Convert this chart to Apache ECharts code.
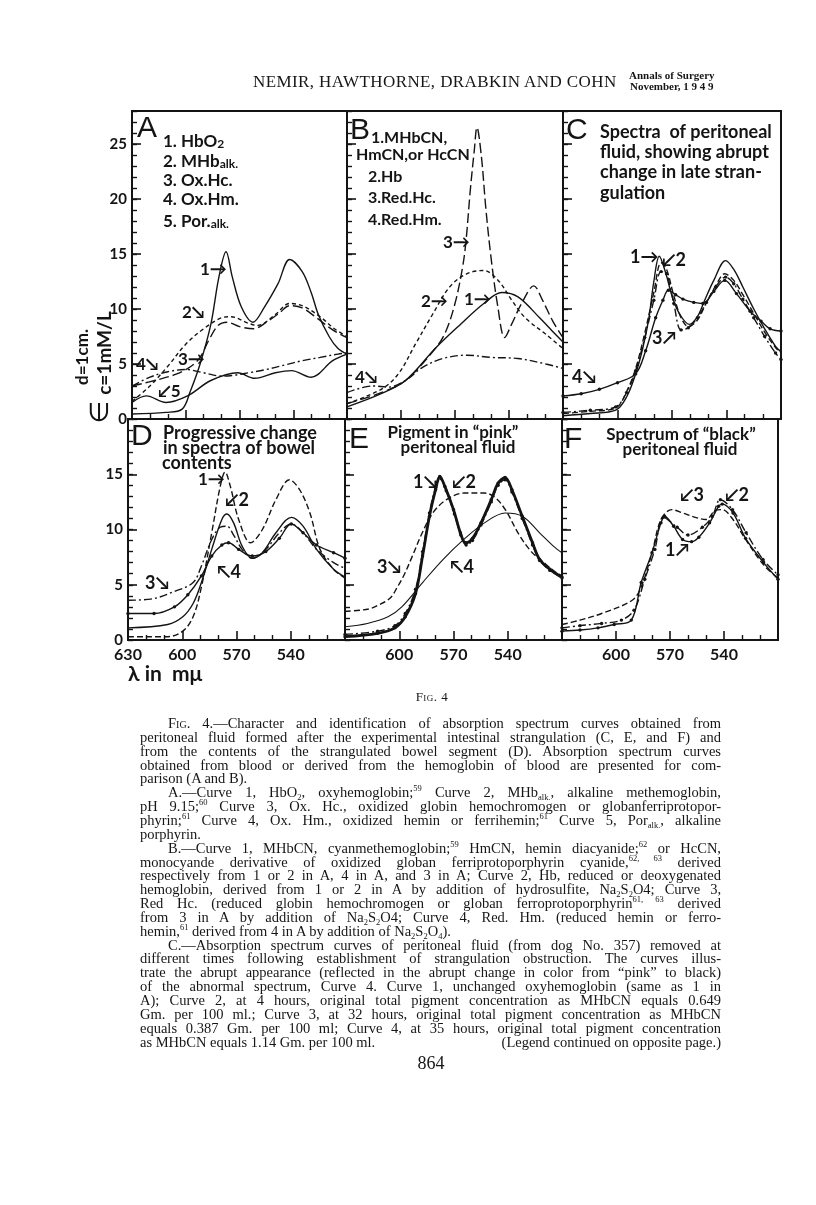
<!DOCTYPE html>
<html>
<head>
<meta charset="utf-8">
<script src="https://cdn.jsdelivr.net/npm/echarts@6/dist/echarts.min.js"></script>
<style>
  html, body { margin: 0; padding: 0; background: #fff; }
  #page { position: relative; width: 816px; height: 1205px; overflow: hidden; background: #fff; }
  #chart { position: absolute; left: 0; top: 0; width: 816px; height: 1205px; }
  .serif { position: absolute; font-family: "Liberation Serif", "DejaVu Serif", serif; color: #161616; }
  .hdr { top: 72px; left: 253px; font-size: 17px; line-height: 20px; letter-spacing: 0.4px; }
  .ann { left: 629px; top: 70px; font-size: 11px; font-weight: bold; line-height: 11px; text-align: center; }
  .fig { top: 689px; left: 332px; width: 200px; text-align: center; font-size: 13px; line-height: 16px; letter-spacing: 0.5px; }
  .ln { position: absolute; font-size: 14.5px; line-height: 14px; height: 14px; text-align: justify; text-align-last: justify; }
  .ln.last { text-align-last: left; }
  .ln sup, .ln sub { font-size: 8.5px; line-height: 0; }
  .ln sub { vertical-align: -3px; }
  .sc { font-variant: small-caps; }
  .pg { top: 1052px; left: 381px; width: 100px; text-align: center; font-size: 18px; line-height: 22px; }
</style>
</head>
<body>
<div id="page">
  <div id="chart"></div>
  <div class="serif hdr">NEMIR, HAWTHORNE, DRABKIN AND COHN</div>
  <div class="serif ann">Annals of Surgery<br>November, 1 9 4 9</div>
  <div class="serif fig"><span class="sc">Fig.</span> 4</div>
  <div id="caption"></div>
  <div class="serif pg">864</div>
</div>
<script>
// wavelength axis (m\u03bc), reversed: 630 on the left
const xMin = 510, xMax = 630;
const xLabelsFirst = [630, 600, 570, 540];
const xLabelsOther = [600, 570, 540];
const yLabelsTop = [0, 5, 10, 15, 20, 25];
const yLabelsBottom = [0, 5, 10, 15];

// A  (blood pigments)
const A1_HbO2 = [[630,0.45],[611,0.6],[602,0.9],[597.5,2.5],[592,5.0],[586,8.6],[581.5,12.9],[577.5,15.2],[574,12.9],[569,10.2],[562.5,8.8],[556,10.2],[548.5,12.3],[542,14.5],[535,13.4],[530,11.5],[526,9.5],[520,7.5],[515,6.4],[510,5.9]];
const A2_MHbAlk = [[630,1.6],[620,3.0],[610,4.8],[600,6.8],[590,8.2],[580,9.2],[575,9.3],[565,8.7],[560,8.5],[550,9.5],[542,10.5],[535,10.3],[525,9.3],[517,8.2],[510,7.5]];
const A3_OxHc = [[630,3.0],[615,3.6],[605,4.1],[597,4.8],[592,5.6],[587,7.2],[582,8.5],[577,8.8],[570,8.4],[562,8.2],[555,8.8],[548,9.6],[542,10.3],[535,10.1],[527,9.2],[518,8.1],[510,7.4]];
const A4_OxHm = [[630,3.0],[620,3.8],[610,4.3],[600,4.5],[590,4.2],[580,3.9],[572,4.0],[565,4.2],[555,4.5],[545,4.9],[535,5.3],[525,5.6],[515,5.9],[510,6.0]];
const A5_PorAlk = [[630,1.5],[622,2.1],[611,1.5],[599,2.1],[586,3.5],[571,4.2],[561.5,3.7],[550,4.2],[541,4.4],[530,3.8],[518,5.3],[510,5.9]];

// B
const B1_MHbCN = [[630,1.1],[611,2.3],[597.5,3.5],[580.5,6.5],[567,8.6],[554,10.5],[544,11.5],[535,11.1],[523,9.2],[516,8.0],[510,7.0]];
const B2_Hb = [[630,1.4],[611,2.7],[601.5,4.1],[592,6.8],[582.5,9.5],[573,12.0],[563.5,13.2],[554,13.5],[546,12.6],[538.5,10.8],[531,9.2],[519.5,7.7],[510,6.4]];
const B3_RedHc = [[630,1.4],[611,2.4],[597.5,3.5],[580.5,6.5],[575,8.0],[570,10.5],[566,13.6],[564,16.0],[561.5,20.8],[559.3,24.4],[557.8,26.5],[555.3,23.8],[552.9,19.2],[550,14.7],[546.2,10.2],[542.4,7.4],[538.6,8.6],[533,10.5],[526.2,12.1],[521.4,10.8],[515.7,8.9],[510,7.4]];
const B4_RedHm = [[630,2.4],[615.7,3.0],[607,2.9],[597.5,3.5],[588,4.7],[576.7,5.5],[563.3,5.8],[550,5.6],[535,5.5],[519.5,5.0],[510,4.6]];

// C
const C1 = [[630,0.3],[615,0.5],[601,0.8],[595,2.0],[590,4.1],[586,6.5],[582.7,9.2],[580,12.5],[577,14.8],[573.5,13.3],[570,11.2],[566,9.6],[560.5,8.6],[556,9.3],[552,10.8],[547,12.6],[540.5,14.4],[536,13.6],[531,12.0],[525,10.0],[519,8.2],[513,6.6],[510,6.1]];
const C2 = [[630,0.5],[615,0.7],[601,1.0],[595,2.5],[590,4.6],[585,7.8],[580,11.5],[576,14.2],[573,13.6],[569,11.2],[565,9.2],[561,8.4],[556,9.0],[551,10.6],[546,12.1],[541,13.2],[536,12.6],[531,11.3],[525,9.6],[519,7.9],[513,6.5],[510,6.0]];
const C3 = [[630,0.6],[615,0.8],[601,1.1],[595,2.4],[590,4.4],[585,7.4],[580,10.8],[576,13.4],[573,13.2],[569,10.5],[565,8.1],[561,8.3],[556,9.2],[551,10.6],[546,12.0],[540.5,12.9],[536,12.3],[531,10.9],[525,9.2],[519,7.5],[513,6.0],[510,5.4]];
const C4 = [[630,2.1],[620,2.3],[610,2.7],[600,3.3],[590,4.1],[584.5,6.2],[579,9.2],[575,10.8],[572,11.7],[568,11.3],[564,10.9],[558,10.6],[553,10.5],[547,11.6],[541,12.6],[534.5,11.4],[527,9.8],[521,8.9],[516,8.2],[510,8.0]];

// D
const D1 = [[630,0.3],[608,0.3],[599.7,0.8],[594,2.1],[589.4,4.8],[583.7,9.7],[579,13.9],[576.3,15.2],[573.4,13.9],[568.8,10.9],[562.2,8.8],[555.7,10.0],[548.2,12.7],[540.7,14.5],[535.1,13.6],[529.4,11.5],[523.8,8.2],[516.3,6.4],[510,5.6]];
const D2 = [[630,1.1],[608,1.4],[599.7,2.1],[594,3.3],[589.4,5.2],[583.7,8.2],[578.1,10.9],[575.3,11.4],[571.6,10.6],[566.9,8.5],[561.3,7.4],[555.7,7.9],[548.2,9.7],[539.7,11.1],[533.2,10.3],[525.7,8.2],[516.3,6.4],[510,5.7]];
const D3 = [[630,3.6],[617.5,3.7],[604.3,4.4],[594,5.2],[589.4,6.7],[583.7,9.1],[579,10.2],[575.3,10.3],[571.6,9.5],[566.9,8.2],[561.3,7.4],[553.8,8.2],[546.3,9.7],[539.7,10.5],[533.2,9.7],[525.7,8.2],[516.3,7.0],[510,6.5]];
const D4 = [[630,2.4],[615.6,2.4],[604.3,3.0],[596.9,4.1],[589.4,5.8],[583.7,7.6],[578.1,8.6],[574.4,8.8],[568.8,8.2],[561.3,7.6],[553.8,8.0],[546.3,9.2],[539.7,10.5],[533.2,9.7],[525.7,8.6],[516.3,7.9],[510,7.4]];

// E
const E1 = [[630,0.3],[612,0.6],[602.4,1.1],[596.7,2.1],[591,4.2],[587.1,7.6],[583.3,11.2],[579.9,13.6],[577.6,14.8],[574.8,13.9],[570,11.8],[566.2,9.7],[563.3,8.8],[559.5,9.2],[554.8,10.6],[549.1,12.7],[545.3,14.2],[541.5,14.7],[537.7,13.6],[532,11.2],[526.3,8.8],[522.4,7.3],[516.7,6.4],[510,5.7]];
const E2 = [[630,0.5],[612,0.8],[602.4,1.3],[596.7,2.4],[591,4.6],[587.1,8.0],[583.3,11.5],[579.9,13.8],[577,14.6],[574,13.5],[569.5,11.4],[566,9.5],[563,8.6],[559.5,9.0],[554.8,10.4],[549.1,12.5],[545.3,14.0],[541.5,14.5],[537.7,13.4],[532,11.0],[526.3,8.6],[522.4,7.2],[516.7,6.3],[510,5.6]];
const E3 = [[630,2.6],[617,2.8],[611,3.2],[605,3.8],[601,4.8],[597,6.0],[593,7.5],[587,9.8],[581,11.6],[573,12.8],[564,13.3],[553,13.3],[547,12.9],[541,11.7],[534,9.6],[527,8.0],[520,7.0],[514,6.2],[510,5.8]];
const E4 = [[630,1.2],[617.6,1.5],[606.2,2.1],[598.6,3.0],[587.1,5.2],[575.7,7.3],[564.3,9.1],[552.9,10.6],[541.4,11.5],[531.9,11.2],[522.4,9.7],[514.8,8.5],[510,7.9]];

// F
const F1 = [[630,0.8],[620,0.9],[610,1.1],[601,1.4],[591.5,1.8],[586,5.2],[580,7.9],[575,10.6],[573,11.2],[568,10.3],[563,9.1],[558,8.9],[554,9.3],[548,10.6],[543,12.1],[541,12.3],[535,11.5],[528,9.2],[518,7.0],[510,5.5]];
const F2 = [[630,1.1],[620,1.3],[608,1.5],[597,1.8],[590,2.7],[584,5.5],[578.4,8.2],[573.7,11.1],[566,10.2],[560,9.5],[552,10.2],[546.5,11.2],[542,12.7],[535.3,11.8],[527.7,9.7],[518.4,7.3],[510,5.9]];
const F3 = [[630,1.4],[620,1.8],[608,2.4],[591,3.6],[586,4.8],[580,7.9],[575,10.9],[569,11.8],[563,11.5],[556,11.1],[550,10.9],[545,11.7],[541,11.8],[535,10.9],[528,9.1],[518,6.8],[510,5.6]];

const ink = '#141414';
const hand = "'Lato','Open Sans','DejaVu Sans',sans-serif";

// panel boxes (px)
const boxes = [
  { left: 132, top: 111, width: 215, height: 308, ymax: 28 },
  { left: 347, top: 111, width: 216, height: 308, ymax: 28 },
  { left: 563, top: 111, width: 218, height: 308, ymax: 28 },
  { left: 128, top: 419, width: 217, height: 221, ymax: 20 },
  { left: 345, top: 419, width: 217, height: 221, ymax: 20 },
  { left: 562, top: 419, width: 216, height: 221, ymax: 20 }
];

const SOLID = 'solid', SHORT = [4, 3], LONG = [10, 4], DASHDOT = [8, 3, 2, 3], DASH = [6, 3];

const curves = [
  [0, A1_HbO2, SOLID], [0, A2_MHbAlk, SHORT], [0, A3_OxHc, LONG], [0, A4_OxHm, DASHDOT], [0, A5_PorAlk, SOLID],
  [1, B1_MHbCN, SOLID], [1, B2_Hb, SHORT], [1, B3_RedHc, LONG], [1, B4_RedHm, DASHDOT],
  [2, C1, SOLID], [2, C2, DASH], [2, C3, DASHDOT, true], [2, C4, SOLID, true],
  [3, D1, DASH], [3, D2, SOLID], [3, D3, DASHDOT], [3, D4, SOLID, true],
  [4, E1, SOLID, true, 2.8], [4, E2, DASHDOT, true], [4, E3, DASH], [4, E4, SOLID, false, 1.1],
  [5, F1, SOLID, true], [5, F2, DASHDOT, true], [5, F3, DASH]
];

const grids = boxes.map(b => ({
  left: b.left, top: b.top, width: b.width, height: b.height,
  show: true, borderColor: ink, borderWidth: 2, backgroundColor: 'transparent'
}));

const xAxes = boxes.map((b, i) => ({
  gridIndex: i, type: 'value', inverse: true, min: xMin, max: xMax, interval: 30,
  axisLine: { show: false }, splitLine: { show: false },
  axisTick: { show: true, inside: true, length: 9, lineStyle: { color: ink, width: 1.6 } },
  minorTick: { show: true, splitNumber: 3, length: 5, lineStyle: { color: ink, width: 1.4 } },
  axisLabel: {
    show: i >= 3, margin: 7, color: ink, fontFamily: hand, fontWeight: 'bold', fontSize: 16,
    formatter: v => ((i === 3 ? xLabelsFirst : xLabelsOther).includes(v) ? String(v) : '')
  }
}));

const yAxes = [];
boxes.forEach((b, i) => {
  const labs = i === 0 ? yLabelsTop : (i === 3 ? yLabelsBottom : []);
  yAxes.push({
    gridIndex: i, type: 'value', min: 0, max: b.ymax, interval: 5, position: 'left',
    axisLine: { show: false }, splitLine: { show: false },
    axisTick: { show: true, inside: true, length: 9, lineStyle: { color: ink, width: 1.6 } },
    axisLabel: {
      show: labs.length > 0, margin: 5, color: ink, fontFamily: hand, fontWeight: 'bold', fontSize: 15,
      formatter: v => (labs.includes(v) ? String(v) : '')
    }
  });
  yAxes.push({
    gridIndex: i, type: 'value', min: 0, max: b.ymax, interval: 1, position: 'left', offset: 0,
    axisLine: { show: false }, splitLine: { show: false },
    axisTick: { show: true, inside: true, length: 5, lineStyle: { color: ink, width: 1.4 } },
    axisLabel: { show: false }
  });
});

const series = curves.map(([g, data, dash, dots, w]) => ({
  type: 'line', xAxisIndex: g, yAxisIndex: g * 2, data: data,
  smooth: 0.35, clip: true, silent: true,
  symbol: dots ? 'circle' : 'none', showSymbol: !!dots, symbolSize: 3.4,
  itemStyle: { color: ink },
  lineStyle: { color: ink, width: w || 1.4, type: dash }
}));

function T(text, x, y, o) {
  o = o || {};
  return {
    type: 'text', x: x, y: y, rotation: o.rot || 0, silent: true, z: 100,
    style: {
      text: text, fill: ink,
      font: o.font || ('bold ' + (o.size || 17) + 'px ' + hand),
      textAlign: o.align || 'left', align: o.align || 'left',
      textVerticalAlign: 'middle', verticalAlign: 'middle',
      rich: o.rich
    }
  };
}
const letter = "30px 'Liberation Sans','DejaVu Sans',sans-serif";
const subRich = {
  m: { font: 'bold 17px ' + hand, fill: ink, lineHeight: 20, verticalAlign: 'bottom' },
  s: { font: 'bold 12px ' + hand, fill: ink, lineHeight: 10, verticalAlign: 'bottom' }
};

const labels = [
  // A
  T('A', 137, 129, { font: letter }),
  T('{m|1. HbO}{s|2}', 163, 140, { rich: subRich }),
  T('{m|2. MHb}{s|alk.}', 163, 160, { rich: subRich }),
  T('3. Ox.Hc.', 163, 181),
  T('4. Ox.Hm.', 163, 200),
  T('{m|5. Por.}{s|alk.}', 163, 220, { rich: subRich }),
  T('1\u2192', 200, 270),
  T('2\u2198', 182, 313),
  T('3\u2192', 178, 360),
  T('4\u2198', 136, 365),
  T('\u21995', 158, 392),
  // B
  T('B', 350, 131, { font: letter }),
  T('1.MHbCN,', 371, 138, { size: 16 }),
  T('HmCN,or HcCN', 356, 155, { size: 16 }),
  T('2.Hb', 368, 177, { size: 16 }),
  T('3.Red.Hc.', 368, 198, { size: 16 }),
  T('4.Red.Hm.', 368, 220, { size: 16 }),
  T('3\u2192', 443, 243),
  T('2\u2192', 421, 302),
  T('1\u2192', 464, 300),
  T('4\u2198', 355, 378),
  // C
  T('C', 566, 131, { font: letter }),
  T('Spectra  of peritoneal', 600, 132, { size: 18 }),
  T('fluid, showing abrupt', 600, 152, { size: 18 }),
  T('change in late stran-', 600, 172, { size: 18 }),
  T('gulation', 600, 193, { size: 18 }),
  T('1\u2192', 630, 257, { size: 18 }),
  T('\u21992', 662, 260, { size: 18 }),
  T('3\u2197', 652, 338, { size: 18 }),
  T('4\u2198', 572, 377, { size: 18 }),
  // D
  T('D', 131, 437, { font: letter }),
  T('Progressive change', 163, 433, { size: 18 }),
  T('in spectra of bowel', 163, 448, { size: 18 }),
  T('contents', 162, 463, { size: 18 }),
  T('1\u2192', 198, 480),
  T('\u21992', 225, 500, { size: 18 }),
  T('3\u2198', 145, 583, { size: 18 }),
  T('\u21964', 217, 572, { size: 18 }),
  // E
  T('E', 349, 440, { font: letter }),
  T('Pigment in \u201cpink\u201d', 453, 433, { size: 17, align: 'center' }),
  T('peritoneal fluid', 458, 448, { size: 17, align: 'center' }),
  T('1\u2198', 413, 482, { size: 18 }),
  T('\u21992', 452, 482, { size: 18 }),
  T('3\u2198', 377, 567, { size: 18 }),
  T('\u21964', 450, 567, { size: 18 }),
  // F
  T('F', 564, 440, { font: letter }),
  T('Spectrum of \u201cblack\u201d', 681, 435, { size: 17, align: 'center' }),
  T('peritoneal fluid', 680, 450, { size: 17, align: 'center' }),
  T('\u21993', 680, 495, { size: 18 }),
  T('\u21992', 725, 495, { size: 18 }),
  T('1\u2197', 665, 550, { size: 18 }),
  // axis titles
  T('\u03bb in  m\u03bc', 128, 674, { size: 21 }),
  T('\u2208', 101, 412, { rot: Math.PI / 2, font: "26px 'DejaVu Sans',sans-serif", align: 'center' }),
  T('c=1mM/L', 105, 353, { rot: Math.PI / 2, size: 19, align: 'center' }),
  T('d=1cm.', 83, 357, { rot: Math.PI / 2, size: 17, align: 'center' })
];

const chart = echarts.init(document.getElementById('chart'), null, { renderer: 'canvas' });
chart.setOption({
  animation: false,
  backgroundColor: 'transparent',
  grid: grids,
  xAxis: xAxes,
  yAxis: yAxes,
  series: series,
  graphic: labels
});

// caption, one div per printed line
const capLines = [
  ['in', 'F<span class="sc">ig</span>. 4.\u2014Character and identification of absorption spectrum curves obtained from'],
  ['', 'peritoneal fluid formed after the experimental intestinal strangulation (C, E, and F) and'],
  ['', 'from the contents of the strangulated bowel segment (D). Absorption spectrum curves'],
  ['', 'obtained from blood or derived from the hemoglobin of blood are presented for com-'],
  ['last', 'parison (A and B).'],
  ['in', 'A.\u2014Curve 1, HbO<sub>2</sub>, oxyhemoglobin;<sup>59</sup> Curve 2, MHb<sub>alk.</sub>, alkaline methemoglobin,'],
  ['', 'pH 9.15;<sup>60</sup> Curve 3, Ox. Hc., oxidized globin hemochromogen or globanferriprotopor-'],
  ['', 'phyrin;<sup>61</sup> Curve 4, Ox. Hm., oxidized hemin or ferrihemin;<sup>61</sup> Curve 5, Por<sub>alk.</sub>, alkaline'],
  ['last', 'porphyrin.'],
  ['in', 'B.\u2014Curve 1, MHbCN, cyanmethemoglobin;<sup>59</sup> HmCN, hemin diacyanide;<sup>62</sup> or HcCN,'],
  ['', 'monocyande derivative of oxidized globan ferriprotoporphyrin cyanide,<sup>62, 63</sup> derived'],
  ['', 'respectively from 1 or 2 in A, 4 in A, and 3 in A; Curve 2, Hb, reduced or deoxygenated'],
  ['', 'hemoglobin, derived from 1 or 2 in A by addition of hydrosulfite, Na<sub>2</sub>S<sub>2</sub>O4; Curve 3,'],
  ['', 'Red Hc. (reduced globin hemochromogen or globan ferroprotoporphyrin<sup>61, 63</sup> derived'],
  ['', 'from 3 in A by addition of Na<sub>2</sub>S<sub>2</sub>O4; Curve 4, Red. Hm. (reduced hemin or ferro-'],
  ['last', 'hemin,<sup>61</sup> derived from 4 in A by addition of Na<sub>2</sub>S<sub>2</sub>O<sub>4</sub>).'],
  ['in', 'C.\u2014Absorption spectrum curves of peritoneal fluid (from dog No. 357) removed at'],
  ['', 'different times following establishment of strangulation obstruction. The curves illus-'],
  ['', 'trate the abrupt appearance (reflected in the abrupt change in color from \u201cpink\u201d to black)'],
  ['', 'of the abnormal spectrum, Curve 4. Curve 1, unchanged oxyhemoglobin (same as 1 in'],
  ['', 'A); Curve 2, at 4 hours, original total pigment concentration as MHbCN equals 0.649'],
  ['', 'Gm. per 100 ml.; Curve 3, at 32 hours, original total pigment concentration as MHbCN'],
  ['', 'equals 0.387 Gm. per 100 ml; Curve 4, at 35 hours, original total pigment concentration'],
  ['end', 'as MHbCN equals 1.14 Gm. per 100 ml.']
];
const capLeft = 140, capWidth = 581, capTop = 716, capStep = 13.85;
const cap = document.getElementById('caption');
capLines.forEach((l, i) => {
  const d = document.createElement('div');
  const indent = l[0] === 'in' ? 28 : 0;
  d.className = 'serif ln' + (l[0] === 'last' || l[0] === 'end' ? ' last' : '');
  d.style.left = (capLeft + indent) + 'px';
  d.style.width = (capWidth - indent) + 'px';
  d.style.top = (capTop + i * capStep) + 'px';
  d.innerHTML = l[1];
  cap.appendChild(d);
});
const tail = document.createElement('div');
tail.className = 'serif ln last';
tail.style.left = '440px';
tail.style.width = (capLeft + capWidth - 440) + 'px';
tail.style.textAlign = 'right';
tail.style.textAlignLast = 'right';
tail.style.top = (capTop + 23 * capStep) + 'px';
tail.textContent = '(Legend continued on opposite page.)';
cap.appendChild(tail);
</script>
</body>
</html>
